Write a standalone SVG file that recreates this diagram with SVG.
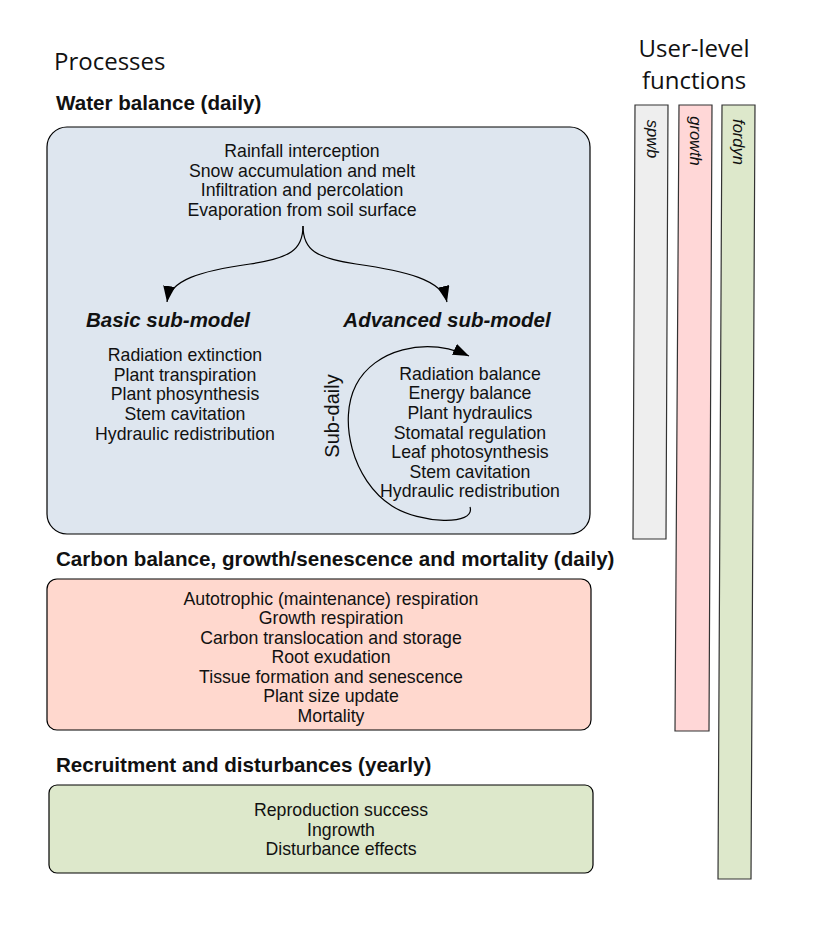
<svg xmlns="http://www.w3.org/2000/svg" width="816" height="926" viewBox="0 0 816 926">
<defs>
<style>
.t{font-family:"Liberation Sans",Arial,sans-serif;font-size:17.7px;fill:#111;text-anchor:middle}
.h{font-family:"Liberation Sans",Arial,sans-serif;font-size:20.6px;font-weight:bold;fill:#111}
.sub{font-family:"Liberation Sans",Arial,sans-serif;font-size:20.5px;font-weight:bold;font-style:italic;fill:#111;text-anchor:middle}
.big{font-family:"Open Sans","Noto Sans",sans-serif;font-size:24px;fill:#111}
.fn{font-family:"Liberation Sans",Arial,sans-serif;font-size:16.5px;font-style:italic;fill:#111;text-anchor:middle}
.box{stroke:#000;stroke-width:1.2}
.bar{stroke:#333;stroke-width:1.2}
.c{fill:none;stroke:#000;stroke-width:1.2}
</style>
<marker id="ah" markerWidth="18" markerHeight="14" refX="16" refY="6" orient="auto" markerUnits="userSpaceOnUse">
<path d="M0,0 L16,6 L0,12 Z" fill="#000"/>
</marker>
</defs>
<rect width="816" height="926" fill="#fff"/>
<text class="big" x="54" y="70">Processes</text>
<text class="big" x="694" y="57" text-anchor="middle">User-level</text>
<text class="big" x="694" y="89" text-anchor="middle">functions</text>

<g id="water">
<text class="h" x="56" y="110">Water balance (daily)</text>
<rect class="box" x="47" y="127" width="543" height="407" rx="20" fill="#dee6ef"/>
<text class="t" x="302" y="157">Rainfall interception</text>
<text class="t" x="302" y="177">Snow accumulation and melt</text>
<text class="t" x="302" y="196">Infiltration and percolation</text>
<text class="t" x="302" y="216">Evaporation from soil surface</text>
</g>
<g id="basic">
<text class="sub" x="168" y="327">Basic sub-model</text>
<text class="t" x="185" y="361">Radiation extinction</text>
<text class="t" x="185" y="381">Plant transpiration</text>
<text class="t" x="185" y="400">Plant phosynthesis</text>
<text class="t" x="185" y="420">Stem cavitation</text>
<text class="t" x="185" y="440">Hydraulic redistribution</text>
</g>
<g id="advanced">
<text class="sub" x="447" y="327">Advanced sub-model</text>
<text class="t" x="470" y="380">Radiation balance</text>
<text class="t" x="470" y="399">Energy balance</text>
<text class="t" x="470" y="419">Plant hydraulics</text>
<text class="t" x="470" y="439">Stomatal regulation</text>
<text class="t" x="470" y="458">Leaf photosynthesis</text>
<text class="t" x="470" y="478">Stem cavitation</text>
<text class="t" x="470" y="497">Hydraulic redistribution</text>
<text class="t" transform="translate(339,416) rotate(-90)" style="font-size:20px">Sub-daily</text>
</g>
<g id="carbon">
<text class="h" x="56" y="566">Carbon balance, growth/senescence and mortality (daily)</text>
<rect class="box" x="47" y="579" width="544" height="151" rx="10" fill="#ffd8ce"/>
<text class="t" x="331" y="605">Autotrophic (maintenance) respiration</text>
<text class="t" x="331" y="624">Growth respiration</text>
<text class="t" x="331" y="644">Carbon translocation and storage</text>
<text class="t" x="331" y="663">Root exudation</text>
<text class="t" x="331" y="683">Tissue formation and senescence</text>
<text class="t" x="331" y="702">Plant size update</text>
<text class="t" x="331" y="722">Mortality</text>
</g>
<g id="recruitment">
<text class="h" x="56" y="772">Recruitment and disturbances (yearly)</text>
<rect class="box" x="49" y="785" width="544" height="88" rx="8" fill="#dde8cb"/>
<text class="t" x="341" y="816">Reproduction success</text>
<text class="t" x="341" y="836">Ingrowth</text>
<text class="t" x="341" y="855">Disturbance effects</text>
</g>
<g id="spwb">
<polygon class="bar" points="635,105 668,105 666,539 633,539" fill="#eeeeee"/>
<text class="fn" transform="translate(647,139) rotate(90)">spwb</text>
</g>
<g id="growth">
<polygon class="bar" points="679,105 712,105 709,731 675,731" fill="#ffd7d7"/>
<text class="fn" transform="translate(690,141) rotate(90)">growth</text>
</g>
<g id="fordyn">
<polygon class="bar" points="722,105 755,105 751,879 718,879" fill="#dde8cb"/>
<text class="fn" transform="translate(733,142) rotate(90)">fordyn</text>
</g>
<g id="connectors">
<path class="c" d="M303,226 C303,250 290,258 250,264 C200,271 170,280 167,302" marker-end="url(#ah)"/>
<path class="c" d="M303,226 C303,250 316,258 356,264 C406,271 442,280 447,302" marker-end="url(#ah)"/>
<path class="c" d="M470,507 C476,526 420,524 392,506 C352,480 338,420 356,385 C374,350 425,336 469,356" marker-end="url(#ah)"/>
</g>
</svg>
